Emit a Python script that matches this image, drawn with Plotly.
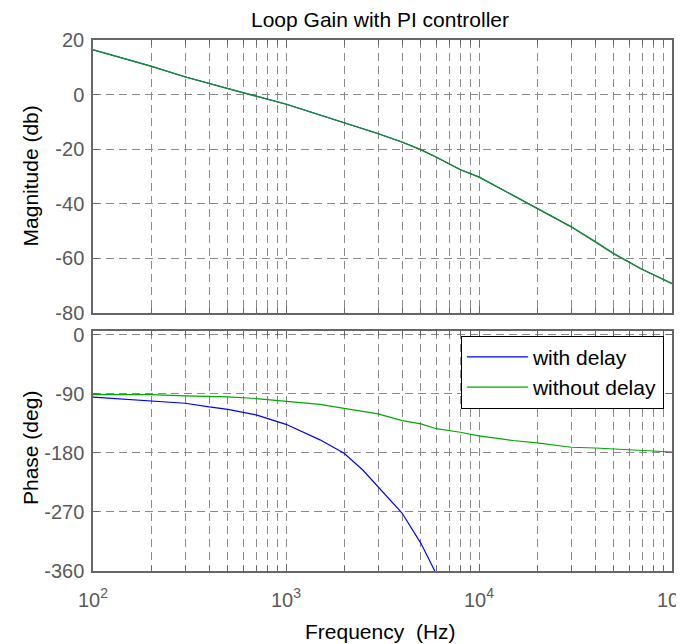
import plotly.graph_objects as go

# ---- data ----
freq_mag = [100, 200, 300, 400, 500, 600, 1000, 2000, 3000, 4000, 5000, 6000, 8000,
            10000, 20000, 30000, 40000, 50000, 70000, 100000]
mag_db = [16.4, 10.4, 6.5, 4.0, 2.3, 0.7, -3.5, -10.2, -14.3, -17.4, -20.2, -22.9, -27.5,
          -30.2, -41.7, -48.4, -53.9, -58.3, -64.0, -69.2]

freq_nodelay = [100, 200, 300, 500, 700, 1000, 1500, 2000, 3000, 4000, 5000, 6000, 8000,
                10000, 15000, 20000, 30000, 40000, 50000, 70000, 100000]
phase_nodelay = [-91, -91, -93, -94.5, -97, -100.7, -106, -111.9, -120.5, -130.7, -135.7, -143,
                 -148.4, -154, -161, -164.7, -171.3, -172.4, -173.9, -175.4, -178.5]

freq_delay = [100, 200, 300, 400, 500, 700, 800, 1000, 1500, 2000, 2500, 3000, 4000, 5000, 5900]
phase_delay = [-95, -100.7, -104.2, -109.8, -113.4, -122, -127.6, -136.3, -160, -180.5,
               -206, -231.3, -272, -317.8, -360]

xtick_vals = [100, 1000, 10000, 100000]
xtick_text = ["10<sup>2</sup>", "10<sup>3</sup>", "10<sup>4</sup>", "10<sup>5</sup>"]
mag_ticks = [20, 0, -20, -40, -60, -80]
mag_text = ["20", "0", "-20", "-40", "-60", "-80"]
phase_ticks = [0, -90, -180, -270, -360]
phase_text = ["0", "-90", "-180", "-270", "-360"]

BLUE = "#0000ff"
GREEN_TOP = "#1a8a34"
GREEN = "#00a800"
AX = "#666666"
TICKC = "#5a5a5a"
GRIDC = "#8a8a8a"
FONT = "Liberation Sans, Arial, sans-serif"
FS = 20
FL = 21

fig = go.Figure()
fig.add_trace(go.Scatter(x=freq_mag, y=mag_db, mode="lines", line=dict(color=BLUE, width=1.0),
                         showlegend=False, xaxis="x", yaxis="y"))
fig.add_trace(go.Scatter(x=freq_mag, y=mag_db, mode="lines", line=dict(color=GREEN_TOP, width=1.5),
                         showlegend=False, xaxis="x", yaxis="y"))
fig.add_trace(go.Scatter(x=freq_delay, y=phase_delay, mode="lines", name="with delay",
                         line=dict(color=BLUE, width=1.2), xaxis="x2", yaxis="y2",
                         legendgroup="a"))
fig.add_trace(go.Scatter(x=freq_nodelay, y=phase_nodelay, mode="lines", name="without delay",
                         line=dict(color=GREEN, width=1.2), xaxis="x2", yaxis="y2",
                         legendgroup="b"))

grid = dict(showgrid=True, gridcolor=GRIDC, gridwidth=1, griddash="8px,5px")
common_x = dict(type="log", range=[2, 5], showline=True, linecolor=AX, linewidth=1.5,
                mirror="ticks", ticks="inside", ticklen=7, tickcolor=AX, automargin=False,
                tickvals=xtick_vals, ticktext=xtick_text, zeroline=False,
                minor=dict(dtick="D1", showgrid=True, gridcolor=GRIDC, gridwidth=1,
                           griddash="8px,5px", ticks="inside", ticklen=5, tickcolor=AX),
                **grid)
common_y = dict(showline=True, linecolor=AX, linewidth=1.5, mirror="ticks", ticks="inside",
                ticklen=6, tickcolor=AX, zeroline=False, ticklabelstandoff=3, automargin=False,
                tickfont=dict(size=FS, color=TICKC, family=FONT), **grid)

# The page body adds an 8px offset, so the figure is sized to fill the remaining window.
fig.update_layout(
    width=676, height=636,
    margin=dict(l=85, r=12, t=32, b=73, autoexpand=False),
    paper_bgcolor="white", plot_bgcolor="white",
    font=dict(family=FONT, size=FS, color="black"),
    xaxis=dict(anchor="y", showticklabels=False, **common_x),
    yaxis=dict(domain=[0.4859, 1], range=[-80, 20], tickvals=mag_ticks, ticktext=mag_text,
               anchor="x", **common_y),
    xaxis2=dict(anchor="y2", matches="x", ticklabelstandoff=10, ticklabeloverflow="allow",
                tickfont=dict(size=FS, color=TICKC, family=FONT), **common_x),
    yaxis2=dict(domain=[0, 0.452], range=[-360, 6], tickvals=phase_ticks, ticktext=phase_text,
                anchor="x2", **common_y),
    legend=dict(x=0.986, y=0.443, xanchor="right", yanchor="top", bgcolor="white",
                bordercolor="black", borderwidth=1, font=dict(size=FL, color="black", family=FONT),
                tracegroupgap=0, itemwidth=61),
    showlegend=True,
    annotations=[
        dict(text="Loop Gain with PI controller", x=0.4957, y=1.0395, xref="paper", yref="paper",
             xanchor="center", yanchor="middle", showarrow=False,
             font=dict(size=FL, color="black")),
        dict(text="Magnitude (db)", x=-0.1088, y=0.743, xref="paper", yref="paper",
             xanchor="center", yanchor="middle", textangle=-90, showarrow=False,
             font=dict(size=FL, color="black")),
        dict(text="Phase (deg)", x=-0.1088, y=0.2316, xref="paper", yref="paper",
             xanchor="center", yanchor="middle", textangle=-90, showarrow=False,
             font=dict(size=FL, color="black")),
        dict(text="Frequency  (Hz)", x=0.4957, y=-0.113, xref="paper", yref="paper",
             xanchor="center", yanchor="middle", showarrow=False,
             font=dict(size=FL, color="black")),
    ],
)

fig.write_html("out.html")
